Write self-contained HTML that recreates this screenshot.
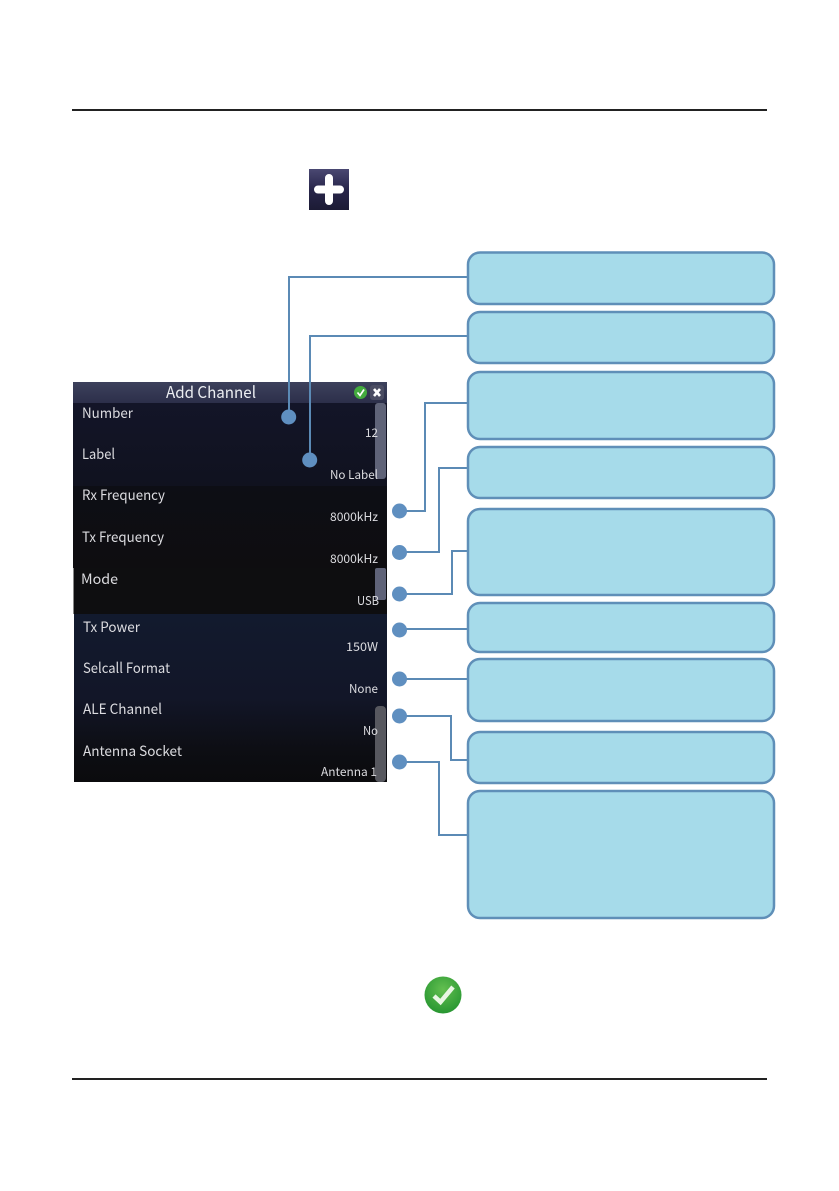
<!DOCTYPE html>
<html>
<head>
<meta charset="utf-8">
<style>
html,body{margin:0;padding:0;background:#fff}
#p{position:relative;width:839px;height:1191px;overflow:hidden}
svg{position:absolute;left:0;top:0}
text{font-family:"Noto Sans CJK JP","DejaVu Sans",sans-serif;fill:#dcdce0}
.l{font-size:14px}
.v{font-size:12px}
</style>
</head>
<body>
<div id="p">
<svg width="839" height="1191" viewBox="0 0 839 1191" xmlns="http://www.w3.org/2000/svg">
<defs>
<linearGradient id="plus" x1="0" y1="0" x2="0" y2="1"><stop offset="0" stop-color="#4a4872"/><stop offset=".5" stop-color="#28264a"/><stop offset="1" stop-color="#1c1b35"/></linearGradient>
<linearGradient id="g1" x1="0" y1="0" x2="0" y2="1"><stop offset="0" stop-color="#131528"/><stop offset="1" stop-color="#10121f"/></linearGradient>
<linearGradient id="g2" x1="0" y1="0" x2="0" y2="1"><stop offset="0" stop-color="#0d0e15"/><stop offset="1" stop-color="#0e0d10"/></linearGradient>
<linearGradient id="g3" x1="0" y1="0" x2="0" y2="1"><stop offset="0" stop-color="#121a2e"/><stop offset=".5" stop-color="#121628"/><stop offset=".8" stop-color="#0d0e14"/><stop offset="1" stop-color="#0b0b0d"/></linearGradient>
<linearGradient id="title" x1="0" y1="0" x2="0" y2="1"><stop offset="0" stop-color="#3d415c"/><stop offset="1" stop-color="#2c2f4a"/></linearGradient>
<radialGradient id="chk" cx=".5" cy=".35" r=".7"><stop offset="0" stop-color="#63bf50"/><stop offset="1" stop-color="#23932f"/></radialGradient>
</defs>

<rect x="72" y="109" width="695" height="2" fill="#222"/>
<rect x="72" y="1078" width="695" height="2" fill="#222"/>

<rect x="309" y="169" width="40" height="41" fill="url(#plus)"/>
<path d="M329 178V201M318 189.500H340" stroke="#fff" stroke-width="8" stroke-linecap="round" fill="none"/>

<circle cx="443" cy="995" r="18.500" fill="url(#chk)"/>
<path d="M434 996L440.500 1002L453 987" stroke="#e9f6e4" stroke-width="4.500" fill="none"/>

<!-- Panel -->
<rect x="73" y="382" width="314" height="21" fill="url(#title)"/>
<rect x="73" y="403" width="314" height="83" fill="url(#g1)"/>
<rect x="73" y="486" width="314" height="82" fill="url(#g2)"/>
<rect x="73" y="568" width="314" height="46" fill="#0e0e10"/>
<rect x="74" y="614" width="313" height="168" fill="url(#g3)"/>
<rect x="73" y="568" width="1" height="46" fill="#888"/>

<text x="166" y="398" font-size="16" textLength="90" lengthAdjust="spacingAndGlyphs" style="fill:#eceef2">Add Channel</text>
<circle cx="360.500" cy="392.500" r="6.500" fill="#43ab3e"/>
<path d="M357.500 392.500L360 395.500L364 389.500" stroke="#fff" stroke-width="1.700" fill="none"/>
<rect x="370" y="385" width="14" height="15" rx="3" fill="#4a4c62"/>
<path d="M374 389L380 396M380 389L374 396" stroke="#fff" stroke-width="2.600" fill="none"/>

<rect x="375" y="403" width="11" height="76" rx="3" fill="#5f6378"/>
<rect x="375" y="568" width="11" height="32" rx="2" fill="#5f6378"/>
<rect x="375" y="706" width="11" height="76" rx="4" fill="#57585f"/>

<text class="l" x="82" y="418" textLength="51" lengthAdjust="spacingAndGlyphs">Number</text>
<text class="v" x="365" y="437" textLength="13" lengthAdjust="spacingAndGlyphs">12</text>
<text class="l" x="82" y="459" textLength="33" lengthAdjust="spacingAndGlyphs">Label</text>
<text class="v" x="330" y="479" textLength="48" lengthAdjust="spacingAndGlyphs">No Label</text>
<text class="l" x="82" y="500" textLength="83" lengthAdjust="spacingAndGlyphs">Rx Frequency</text>
<text class="v" x="330" y="521" textLength="48" lengthAdjust="spacingAndGlyphs">8000kHz</text>
<text class="l" x="82" y="542" textLength="82" lengthAdjust="spacingAndGlyphs">Tx Frequency</text>
<text class="v" x="330" y="563" textLength="48" lengthAdjust="spacingAndGlyphs">8000kHz</text>
<text class="l" x="81" y="584" textLength="37" lengthAdjust="spacingAndGlyphs">Mode</text>
<text class="v" x="357" y="605" textLength="22" lengthAdjust="spacingAndGlyphs">USB</text>
<text class="l" x="83" y="632" textLength="57" lengthAdjust="spacingAndGlyphs">Tx Power</text>
<text class="v" x="346" y="651" textLength="32" lengthAdjust="spacingAndGlyphs">150W</text>
<text class="l" x="83" y="673" textLength="87" lengthAdjust="spacingAndGlyphs">Selcall Format</text>
<text class="v" x="349" y="693" textLength="29" lengthAdjust="spacingAndGlyphs">None</text>
<text class="l" x="83" y="714" textLength="79" lengthAdjust="spacingAndGlyphs">ALE Channel</text>
<text class="v" x="363" y="735" textLength="15" lengthAdjust="spacingAndGlyphs">No</text>
<text class="l" x="83" y="756" textLength="99" lengthAdjust="spacingAndGlyphs">Antenna Socket</text>
<text class="v" x="321" y="776" textLength="56" lengthAdjust="spacingAndGlyphs">Antenna 1</text>

<!-- Connectors (drawn over the panel) -->
<g fill="none" stroke="#5b8ab5" stroke-width="2">
<path d="M289 417V277H468"/>
<path d="M310 459V336H468"/>
<path d="M400 511H425V403H468"/>
<path d="M400 552H439V468H468"/>
<path d="M400 594H452V551H468"/>
<path d="M400 629H468"/>
<path d="M400 679H468"/>
<path d="M400 716H451V760H468"/>
<path d="M400 762H439V835H468"/>
</g>

<!-- Boxes -->
<g fill="#a6dbea" stroke="#5f8fb8" stroke-width="2.500">
<rect x="468" y="252.500" width="306" height="51.500" rx="12"/>
<rect x="468" y="312" width="306" height="51" rx="12"/>
<rect x="468" y="372" width="306" height="67" rx="12"/>
<rect x="468" y="447" width="306" height="51" rx="12"/>
<rect x="468" y="509" width="306" height="86" rx="12"/>
<rect x="468" y="603" width="306" height="49" rx="12"/>
<rect x="468" y="659" width="306" height="62" rx="12"/>
<rect x="468" y="732" width="306" height="51" rx="12"/>
<rect x="468" y="791" width="306" height="127" rx="12"/>
</g>

<!-- Dots -->
<g fill="#5f8fc0">
<circle cx="288.700" cy="417" r="7.500"/>
<circle cx="309.700" cy="460" r="7.500"/>
<circle cx="399.500" cy="511" r="7.500"/>
<circle cx="399.500" cy="552.500" r="7.500"/>
<circle cx="399.500" cy="594" r="7.500"/>
<circle cx="399.500" cy="630" r="7.500"/>
<circle cx="399.500" cy="679" r="7.500"/>
<circle cx="399.500" cy="716" r="7.500"/>
<circle cx="399.500" cy="762" r="7.500"/>
</g>
</svg>
</div>
</body>
</html>
